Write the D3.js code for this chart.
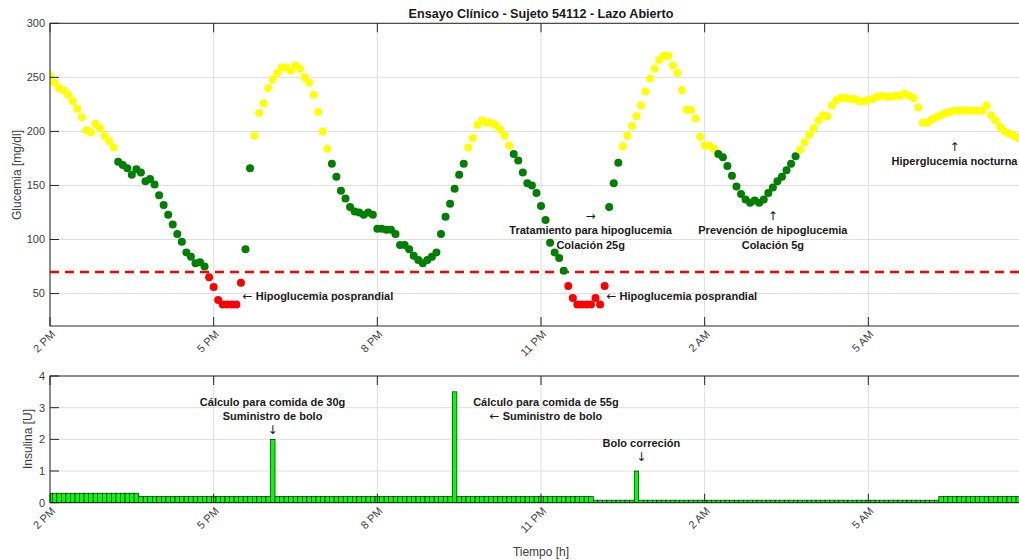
<!DOCTYPE html>
<html>
<head>
<meta charset="utf-8">
<script src="https://cdn.jsdelivr.net/npm/d3@7"></script>
<style>
  body { margin: 0; background: #fff; }
  text { font-family: "Liberation Sans", Arial, sans-serif; }
</style>
</head>
<body>
<svg id="chart" width="1019" height="560"></svg>
<script>
/*global d3*/

// glucose CGM, one reading every 5 min from 2 PM
var glucose = [
  252, 245, 240, 238, 234, 228, 221, 213, 201, 199,
  207, 203, 196, 191, 185, 172, 169, 166, 160, 165,
  162, 154, 156, 151, 141, 132, 123, 114, 105, 98,
  88, 84, 78, 79, 75, 65, 56, 44, 40, 40,
  40, 40, 60, 91, 166, 196, 217, 226, 240, 248,
  254, 259, 259, 256, 261, 258, 250, 245, 234, 218,
  200, 184, 170, 158, 145, 138, 130, 126, 125, 123,
  125, 123, 110, 110, 109, 109, 105, 95, 95, 91,
  85, 81, 78, 81, 84, 88, 105, 121, 133, 147,
  160, 170, 185, 194, 206, 210, 208, 208, 206, 202,
  196, 187, 179, 173, 162, 152, 150, 143, 131, 118,
  97, 88, 83, 71, 57, 46, 40, 40, 40, 40,
  46, 40, 57, 130, 152, 171, 186, 196, 205, 214,
  224, 237, 249, 258, 266, 270, 270, 261, 254, 238,
  220, 220, 212, 195, 187, 187, 184, 179, 176, 168,
  159, 149, 142, 137, 134, 136, 134, 137, 143, 148,
  154, 158, 164, 170, 177, 183, 190, 197, 203, 210,
  215, 214, 224, 229, 231, 231, 230, 230, 228, 228,
  229, 230, 232, 233, 232, 232, 233, 233, 235, 233,
  231, 222, 208, 208, 211, 213, 215, 217, 218, 219,
  219, 219, 219, 219, 219, 219, 224, 215, 210, 204,
  200, 198, 196, 194
];

// insulin delivered per 5 min slot [U]
var insulin = [
  0.3, 0.3, 0.3, 0.3, 0.3, 0.3, 0.3, 0.3, 0.3, 0.3,
  0.3, 0.3, 0.3, 0.3, 0.3, 0.3, 0.3, 0.3, 0.3, 0.3,
  0.2, 0.2, 0.2, 0.2, 0.2, 0.2, 0.2, 0.2, 0.2, 0.2,
  0.2, 0.2, 0.2, 0.2, 0.2, 0.2, 0.2, 0.2, 0.2, 0.2,
  0.2, 0.2, 0.2, 0.2, 0.2, 0.2, 0.2, 0.2, 0.2, 2,
  0.2, 0.2, 0.2, 0.2, 0.2, 0.2, 0.2, 0.2, 0.2, 0.2,
  0.2, 0.2, 0.2, 0.2, 0.2, 0.2, 0.2, 0.2, 0.2, 0.2,
  0.2, 0.2, 0.2, 0.2, 0.2, 0.2, 0.2, 0.2, 0.2, 0.2,
  0.2, 0.2, 0.2, 0.2, 0.2, 0.2, 0.2, 0.2, 0.2, 3.5,
  0.2, 0.2, 0.2, 0.2, 0.2, 0.2, 0.2, 0.2, 0.2, 0.2,
  0.2, 0.2, 0.2, 0.2, 0.2, 0.2, 0.2, 0.2, 0.2, 0.2,
  0.2, 0.2, 0.2, 0.2, 0.2, 0.2, 0.2, 0.2, 0.2, 0.2,
  0.08, 0.08, 0.08, 0.08, 0.08, 0.08, 0.08, 0.08, 0.08, 1,
  0.08, 0.08, 0.08, 0.08, 0.08, 0.08, 0.08, 0.08, 0.08, 0.08,
  0.08, 0.08, 0.08, 0.08, 0.08, 0.08, 0.08, 0.08, 0.08, 0.08,
  0.08, 0.08, 0.08, 0.08, 0.08, 0.08, 0.08, 0.08, 0.08, 0.08,
  0.08, 0.08, 0.08, 0.08, 0.08, 0.08, 0.08, 0.08, 0.08, 0.08,
  0.08, 0.08, 0.08, 0.08, 0.08, 0.08, 0.08, 0.08, 0.08, 0.08,
  0.08, 0.08, 0.08, 0.08, 0.08, 0.08, 0.08, 0.08, 0.08, 0.08,
  0.08, 0.08, 0.08, 0.08, 0.08, 0.08, 0.2, 0.2, 0.2, 0.2,
  0.2, 0.2, 0.2, 0.2, 0.2, 0.2, 0.2, 0.2, 0.2, 0.2,
  0.2, 0.2, 0.2, 0.2, 0.2, 0.2
];

var hypoLimit = 70;
var hyperLimit = 180;
var glucoseTicks = [50, 100, 150, 200, 250, 300];
var insulinTicks = [0, 1, 2, 3, 4];
var tickHours = [0, 3, 6, 9, 12, 15];   // hours after 2 PM

// notes: hours after 2 PM, value, text lines
var glucoseNotes = [
  {h: 3.53, v: 48, anchor: "start", lines: ["\u2190 Hipoglucemia posprandial"]},
  {h: 10.2, v: 48, anchor: "start", lines: ["\u2190 Hipoglucemia posprandial"]},
  {h: 9.91, v: 122, anchor: "middle", lines: ["\u2192", "Tratamiento para hipoglucemia", "Colación 25g"]},
  {h: 13.25, v: 122, anchor: "middle", lines: ["\u2191", "Prevención de hipoglucemia", "Colación 5g"]},
  {h: 16.58, v: 186, anchor: "middle", lines: ["\u2191", "Hiperglucemia nocturna"]}
];
var insulinNotes = [
  {h: 4.08, v: 3.19, lines: ["Cálculo para comida de 30g", "Suministro de bolo", "\u2193"]},
  {h: 9.09, v: 3.19, lines: ["Cálculo para comida de 55g", "\u2190 Suministro de bolo"]},
  {h: 10.84, v: 1.89, lines: ["Bolo correción", "\u2193"]}
];

var svg = d3.select("#chart");
var axisColor = "#262626";
var gridColor = "#dedede";

var t0 = new Date(2020, 0, 1, 14, 0);
var t1 = new Date(2020, 0, 2, 8, 0);
function timeAt(i) { return d3.timeMinute.offset(t0, 5 * i); }
function hoursAt(h) { return new Date(t0.getTime() + h * 3600000); }

var x = d3.scaleTime().domain([t0, t1]).range([50, 1032]);
var yG = d3.scaleLinear().domain([20, 300]).range([326, 23.3]);
var yI = d3.scaleLinear().domain([0, 4]).range([502.7, 376]);
var xTicks = tickHours.map(hoursAt);
var fmt = d3.timeFormat("%-I %p");

function drawFrame(y, yTicks) {
    var y0 = y.range()[0], y1 = y.range()[1];
    var g = svg.append("g");
    g.selectAll(".vg").data(xTicks).enter().append("line")
        .attr("x1", function(d) { return x(d); }).attr("x2", function(d) { return x(d); })
        .attr("y1", y0).attr("y2", y1)
        .attr("stroke", gridColor).attr("stroke-width", 1);
    g.selectAll(".hg").data(yTicks).enter().append("line")
        .attr("x1", 50).attr("x2", 1032)
        .attr("y1", function(d) { return y(d); }).attr("y2", function(d) { return y(d); })
        .attr("stroke", gridColor).attr("stroke-width", 1);
}

function drawAxes(y, yTicks) {
    var y0 = y.range()[0], y1 = y.range()[1];
    var g = svg.append("g");
    g.append("rect").attr("x", 50).attr("y", y1).attr("width", 982).attr("height", y0 - y1)
        .attr("fill", "none").attr("stroke", axisColor).attr("stroke-width", 1);
    // ticks inside
    xTicks.forEach(function(d) {
        g.append("line").attr("x1", x(d)).attr("x2", x(d)).attr("y1", y0).attr("y2", y0 - 9)
            .attr("stroke", axisColor);
        g.append("line").attr("x1", x(d)).attr("x2", x(d)).attr("y1", y1).attr("y2", y1 + 9)
            .attr("stroke", axisColor);
        g.append("text")
            .attr("transform", "translate(" + (x(d) + 6) + "," + (y0 + 9) + ") rotate(-45)")
            .attr("text-anchor", "end")
            .attr("font-size", 11).attr("fill", "#404040")
            .text(fmt(d));
    });
    yTicks.forEach(function(d) {
        g.append("line").attr("x1", 50).attr("x2", 59).attr("y1", y(d)).attr("y2", y(d))
            .attr("stroke", axisColor);
        g.append("text").attr("x", 45).attr("y", y(d)).attr("dy", "0.35em")
            .attr("text-anchor", "end").attr("font-size", 11).attr("fill", "#404040")
            .text(d);
    });
}

function drawNotes(notes, y) {
    notes.forEach(function(n) {
        var px = x(hoursAt(n.h));
        var t = svg.append("text")
            .attr("x", px).attr("y", y(n.v))
            .attr("text-anchor", n.anchor || "middle")
            .attr("font-size", 11).attr("font-weight", "bold").attr("fill", "#1a1a1a");
        n.lines.forEach(function(line, i) {
            var pieces = line.split(/([\u2190-\u2193])/).filter(function(s) { return s.length; });
            pieces.forEach(function(p, j) {
                var s = t.append("tspan").text(p);
                if (j === 0) s.attr("x", px).attr("dy", i === 0 ? "0.35em" : 14.3);
                if (/[\u2190-\u2193]/.test(p)) {
                    s.attr("font-family", "DejaVu Sans").attr("font-weight", "normal")
                        .attr("font-size", 12);
                }
            });
        });
    });
}

svg.append("clipPath").attr("id", "clipTop").append("rect")
    .attr("x", 50).attr("y", 23.3).attr("width", 982).attr("height", 326 - 23.3);
svg.append("clipPath").attr("id", "clipBottom").append("rect")
    .attr("x", 50).attr("y", 376).attr("width", 982).attr("height", 502.7 - 376);

// ---- glucose panel
drawFrame(yG, glucoseTicks);

svg.append("line")
    .attr("x1", 50).attr("x2", 1032)
    .attr("y1", yG(hypoLimit)).attr("y2", yG(hypoLimit))
    .attr("stroke", "#ff0000").attr("stroke-width", 2.5).attr("stroke-dasharray", "9,6");

svg.append("g").attr("clip-path", "url(#clipTop)")
    .selectAll("circle").data(glucose).enter().append("circle")
    .attr("cx", function(d, i) { return x(timeAt(i)); })
    .attr("cy", function(d) { return yG(d); })
    .attr("r", 4)
    .attr("fill", function(d) {
        if (d < hypoLimit) return "#ff0000";
        if (d > hyperLimit) return "#ffff00";
        return "#008000";
    });

drawAxes(yG, glucoseTicks);
drawNotes(glucoseNotes, yG);

svg.append("text").attr("x", 541).attr("y", 17.5).attr("text-anchor", "middle")
    .attr("font-size", 12.6).attr("font-weight", "bold").attr("fill", "#1a1a1a")
    .text("Ensayo Clínico - Sujeto 54112 - Lazo Abierto");

svg.append("text").attr("transform", "translate(21,175) rotate(-90)")
    .attr("text-anchor", "middle").attr("font-size", 12).attr("fill", "#404040")
    .text("Glucemia [mg/dl]");

// ---- insulin panel
drawFrame(yI, insulinTicks);

svg.append("g").attr("clip-path", "url(#clipBottom)")
    .selectAll("rect").data(insulin).enter().append("rect")
    .attr("x", function(d, i) { return x(d3.timeSecond.offset(timeAt(i), -150)); })
    .attr("width", function(d, i) {
        return x(d3.timeSecond.offset(timeAt(i), 150)) - x(d3.timeSecond.offset(timeAt(i), -150));
    })
    .attr("y", function(d) { return yI(d); })
    .attr("height", function(d) { return yI(0) - yI(d); })
    .attr("fill", "#00ff00").attr("stroke", "#000").attr("stroke-width", 0.6);

drawAxes(yI, insulinTicks);
drawNotes(insulinNotes, yI);

svg.append("text").attr("transform", "translate(32,439) rotate(-90)")
    .attr("text-anchor", "middle").attr("font-size", 12).attr("fill", "#404040")
    .text("Insulina [U]");

svg.append("text").attr("x", 541).attr("y", 556).attr("text-anchor", "middle")
    .attr("font-size", 12).attr("fill", "#404040")
    .text("Tiempo [h]");
</script>
</body>
</html>
